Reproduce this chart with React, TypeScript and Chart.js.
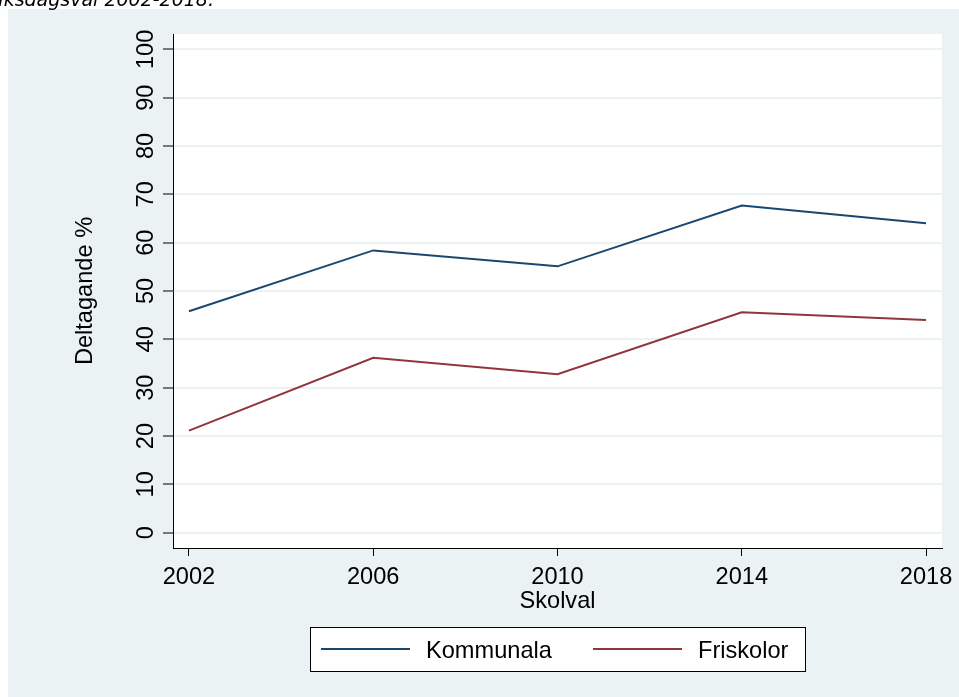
import React, { useEffect, useRef } from "react";
import { Chart, registerables } from "chart.js";

Chart.register(...registerables);

const years = [2002, 2006, 2010, 2014, 2018];
const kommunala = [45.8, 58.4, 55.1, 67.7, 64.0];
const friskolor = [21.1, 36.2, 32.8, 45.6, 44.0];
const yTicks = [0, 10, 20, 30, 40, 50, 60, 70, 80, 90, 100];
const xTicks = [2002, 2006, 2010, 2014, 2018];
const seriesNames = ["Kommunala", "Friskolor"];
const seriesColors = ["#1a476f", "#90353b"];
const xTitle = "Skolval";
const yTitle = "Deltagande %";
const captionText = "Riksdagsval 2002-2018.";

const W = 959;
const H = 697;
const FONT = "23.6px 'Liberation Sans', Arial, sans-serif";

const decor = {
  id: "decor",
  beforeDraw(chart: any) {
    const { ctx, chartArea } = chart;
    ctx.save();
    ctx.fillStyle = "#ffffff";
    ctx.fillRect(0, 0, W, H);
    ctx.fillStyle = "#eaf2f3";
    ctx.fillRect(8, 9, W - 8, H - 9);
    ctx.fillStyle = "#ffffff";
    ctx.fillRect(chartArea.left, chartArea.top, chartArea.right - chartArea.left, chartArea.bottom - chartArea.top);
    ctx.restore();
  },
  afterDraw(chart: any) {
    const { ctx, chartArea, scales } = chart;
    const xs = scales.x;
    const ys = scales.y;
    ctx.save();
    ctx.fillStyle = "#000";
    ctx.font = FONT;
    // y tick labels (rotated)
    for (const v of yTicks) {
      const py = ys.getPixelForValue(v);
      ctx.save();
      ctx.translate(153, py);
      ctx.rotate(-Math.PI / 2);
      ctx.textAlign = "center";
      ctx.textBaseline = "alphabetic";
      ctx.fillText(String(v), 0, 0);
      ctx.restore();
    }
    // x tick labels
    ctx.textAlign = "center";
    ctx.textBaseline = "alphabetic";
    for (const v of xTicks) {
      ctx.fillText(String(v), xs.getPixelForValue(v), 584);
    }
    // axis titles
    const cx = (chartArea.left + chartArea.right) / 2;
    const cy = (chartArea.top + chartArea.bottom) / 2;
    ctx.fillText(xTitle, cx, 608);
    ctx.save();
    ctx.translate(92, cy);
    ctx.rotate(-Math.PI / 2);
    ctx.textAlign = "center";
    ctx.fillText(yTitle, 0, 0);
    ctx.restore();

    // legend
    ctx.fillStyle = "#ffffff";
    ctx.fillRect(310, 627, 495, 44);
    ctx.strokeStyle = "#000";
    ctx.lineWidth = 1;
    ctx.strokeRect(310.5, 627.5, 495, 44);
    const ds = chart.data.datasets;
    const itemX = [321, 593];
    ds.forEach((d: any, i: number) => {
      ctx.strokeStyle = d.borderColor;
      ctx.lineWidth = 2;
      ctx.beginPath();
      ctx.moveTo(itemX[i], 649);
      ctx.lineTo(itemX[i] + 89, 649);
      ctx.stroke();
      ctx.fillStyle = "#000";
      ctx.textAlign = "left";
      ctx.fillText(d.label, itemX[i] + 105, 658);
    });

    // cut-off caption at the very top
    ctx.font = "italic 19px 'DejaVu Sans', Verdana, sans-serif";
    ctx.textAlign = "right";
    ctx.fillStyle = "#000";
    ctx.fillText(captionText, 214, 5.7);
    ctx.restore();
  },
};

export default function App() {
  const ref = useRef<HTMLCanvasElement>(null);
  useEffect(() => {
    if (!ref.current) return;
    const chart = new Chart(ref.current, {
      type: "line",
      data: {
        datasets: [
          {
            label: seriesNames[0],
            data: years.map((x, i) => ({ x, y: kommunala[i] })),
            borderColor: seriesColors[0],
            backgroundColor: seriesColors[0],
            borderWidth: 2,
            pointRadius: 0,
            tension: 0,
          },
          {
            label: seriesNames[1],
            data: years.map((x, i) => ({ x, y: friskolor[i] })),
            borderColor: seriesColors[1],
            backgroundColor: seriesColors[1],
            borderWidth: 2,
            pointRadius: 0,
            tension: 0,
          },
        ],
      },
      options: {
        responsive: false,
        animation: false,
        devicePixelRatio: 1,
        layout: { padding: { left: 163, top: 34, right: 17, bottom: 141 } },
        plugins: { legend: { display: false }, tooltip: { enabled: false }, title: { display: false } },
        scales: {
          x: {
            type: "linear",
            min: 2001.653,
            max: 2018.347,
            afterBuildTicks: (s: any) => {
              s.ticks = xTicks.map((v) => ({ value: v }));
            },
            ticks: { display: false },
            grid: {
              display: true,
              drawOnChartArea: false,
              drawTicks: true,
              tickLength: 8,
              tickColor: "#000",
              tickWidth: 1,
            },
            border: { display: true, color: "#000", width: 1 },
          },
          y: {
            type: "linear",
            min: -3.17,
            max: 103.17,
            afterBuildTicks: (s: any) => {
              s.ticks = yTicks.map((v) => ({ value: v }));
            },
            ticks: { display: false },
            grid: {
              display: true,
              drawOnChartArea: true,
              color: "#eaf2f3",
              lineWidth: 2,
              drawTicks: true,
              tickLength: 10,
              tickColor: "#000",
              tickWidth: 1,
            },
            border: { display: true, color: "#000", width: 1 },
          },
        },
      },
      plugins: [decor],
    });
    return () => chart.destroy();
  }, []);
  return (
    <div style={{ position: "fixed", left: 0, top: 0, width: W, height: H }}>
      <canvas ref={ref} width={W} height={H} style={{ display: "block", width: W, height: H }} />
    </div>
  );
}
